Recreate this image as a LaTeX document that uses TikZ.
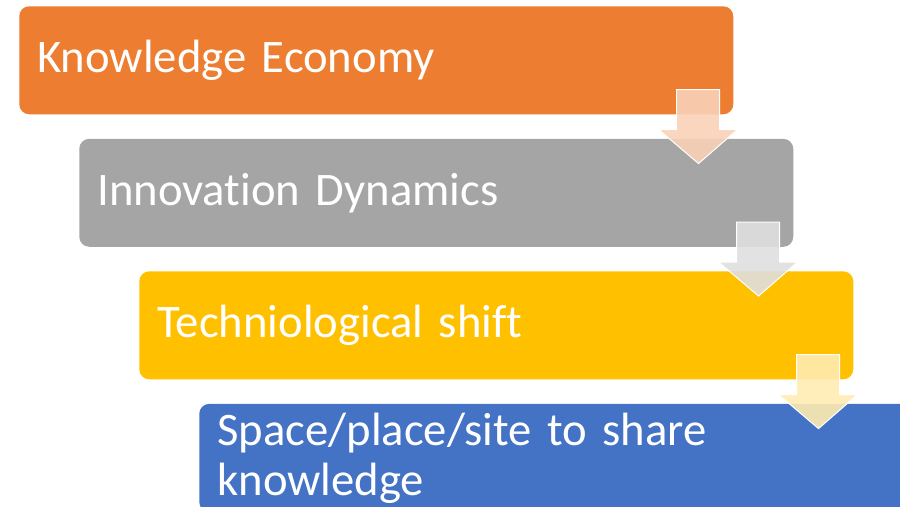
\documentclass[tikz,border=0pt]{standalone}
\usepackage{fontspec}
\setmainfont{Carlito}[Ligatures={NoCommon}]
\usetikzlibrary{positioning,calc}
\definecolor{OrangeClr}{RGB}{237,125,49}
\definecolor{GrayClr}{RGB}{165,165,165}
\definecolor{GoldClr}{RGB}{255,192,0}
\definecolor{BlueClr}{RGB}{68,114,196}

\begin{document}
\begin{tikzpicture}[x=0.75pt,y=-0.75pt,
  stepbox/.style={rounded corners=7.5pt,minimum width=535.5pt,minimum height=81pt,
    text width=508.5pt,inner xsep=13.5pt,inner ysep=0pt,align=left,text=white,
    font=\fontsize{35}{37.5}\selectfont,anchor=north west},
  pics/steparrow/.style={code={
    \draw[draw=white,line width=0.75pt,fill=#1,fill opacity=0.9]
      (-57,-25) -- (-14,-25) -- (-14,15) -- (4,15) -- (-35,49) -- (-75,15) -- (-57,15) -- cycle;}}]
\useasboundingbox (0,0) rectangle (900,507);
\clip (0,0) rectangle (900,507);

% the four steps
\node[stepbox,fill=OrangeClr] (know) at (19,6) {Knowledge Economy};
\node[stepbox,fill=GrayClr] (innov) at ($(know.south west)+(60,24)$) {Innovation Dynamics};
\node[stepbox,fill=GoldClr] (tech) at ($(innov.south west)+(60,24)$) {Techniological shift};
\node[stepbox,fill=BlueClr] (space) at ($(tech.south west)+(60,24)$) {Space/place/site to share\\knowledge};

% arrows between the steps
\pic at (know.south east) {steparrow=OrangeClr!35};
\pic at (innov.south east) {steparrow=GrayClr!35};
\pic at (tech.south east) {steparrow=GoldClr!30};

\end{tikzpicture}
\end{document}
